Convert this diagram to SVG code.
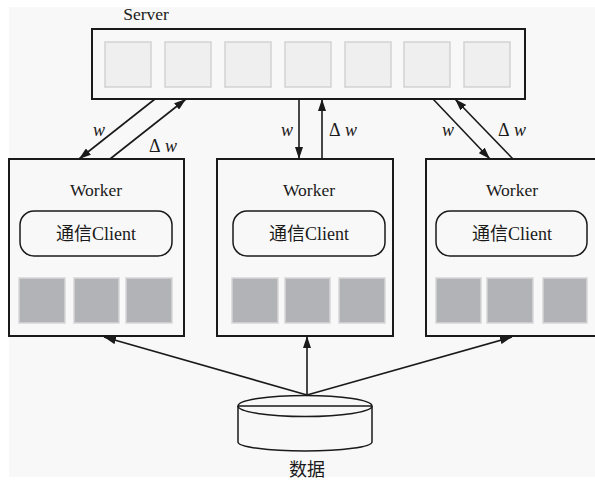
<svg xmlns="http://www.w3.org/2000/svg" width="595" height="480" viewBox="0 0 595 480">
  <defs>
    <marker id="arrow" viewBox="0 0 12 8" refX="12" refY="4" markerWidth="12" markerHeight="8" markerUnits="userSpaceOnUse" orient="auto">
      <path d="M0,0 L12,4 L0,8 Z" fill="#1a1a1a"/>
    </marker>
    <style>
      .frame { fill: #f8f8f8; stroke: #1a1a1a; stroke-width: 2; }
      .slot { fill: #efefef; stroke: #d2d2d2; stroke-width: 1.5; }
      .block { fill: #b2b3b6; stroke: #d6d6d8; stroke-width: 1.5; }
      .client { fill: #f8f8f8; stroke: #1a1a1a; stroke-width: 1.5; }
      .conn { fill: none; stroke: #1a1a1a; stroke-width: 1.6; marker-end: url(#arrow); }
      .lbl { font-family: "Liberation Serif", "Times New Roman", "Noto Sans CJK SC", serif; font-size: 17.5px; fill: #1a1a1a; text-anchor: middle; }
      .var { font-family: "Liberation Serif", "Times New Roman", serif; font-size: 18px; font-style: italic; fill: #1a1a1a; }
      .cjk { font-family: "Liberation Serif", "Times New Roman", "Noto Sans CJK SC", serif; font-size: 18px; fill: #1a1a1a; text-anchor: middle; }
    </style>
  </defs>

  <rect x="0" y="0" width="595" height="480" fill="#ffffff"/>
  <rect x="9" y="7" width="586" height="470" fill="#f8f8f8"/>

  <!-- parameter server -->
  <g id="server">
    <text class="lbl" x="146" y="20">Server</text>
    <rect class="frame" x="92" y="29" width="433" height="70"/>
    <rect class="slot" x="105" y="42" width="46" height="45"/>
    <rect class="slot" x="165" y="42" width="46" height="45"/>
    <rect class="slot" x="225" y="42" width="46" height="45"/>
    <rect class="slot" x="285" y="42" width="46" height="45"/>
    <rect class="slot" x="345" y="42" width="46" height="45"/>
    <rect class="slot" x="404" y="42" width="46" height="45"/>
    <rect class="slot" x="464" y="42" width="46" height="45"/>
  </g>

  <!-- workers -->
  <g id="worker1">
    <rect class="frame" x="9" y="159" width="175" height="177"/>
    <text class="lbl" x="96" y="196">Worker</text>
    <rect class="client" x="20" y="211" width="152" height="45" rx="14"/>
    <text class="cjk" x="96" y="240">通信Client</text>
    <rect class="block" x="19" y="278" width="46" height="45"/>
    <rect class="block" x="74" y="278" width="45" height="45"/>
    <rect class="block" x="126" y="278" width="46" height="45"/>
  </g>

  <g id="worker2">
    <rect class="frame" x="217" y="159" width="176" height="177"/>
    <text class="lbl" x="309" y="196">Worker</text>
    <rect class="client" x="233" y="211" width="152" height="45" rx="14"/>
    <text class="cjk" x="309" y="240">通信Client</text>
    <rect class="block" x="232" y="278" width="46" height="45"/>
    <rect class="block" x="285" y="278" width="45" height="45"/>
    <rect class="block" x="339" y="278" width="46" height="45"/>
  </g>

  <g id="worker3">
    <rect class="frame" x="426" y="159" width="175" height="177"/>
    <text class="lbl" x="512" y="196">Worker</text>
    <rect class="client" x="436" y="211" width="151" height="45" rx="14"/>
    <text class="cjk" x="512" y="240">通信Client</text>
    <rect class="block" x="436" y="278" width="45" height="45"/>
    <rect class="block" x="487" y="278" width="46" height="45"/>
    <rect class="block" x="543" y="278" width="44" height="45"/>
  </g>

  <!-- data store -->
  <g id="data">
    <path d="M238,406 L238,442 A67,9 0 0,0 372,442 L372,406" fill="#f8f8f8" stroke="#1a1a1a" stroke-width="1.5"/>
    <ellipse cx="305" cy="406" rx="67" ry="10.5" fill="#f8f8f8" stroke="#1a1a1a" stroke-width="1.5"/>
    <line x1="238" y1="406" x2="372" y2="406" stroke="#1a1a1a" stroke-width="1.5"/>
    <text class="cjk" x="307" y="476">数据</text>
  </g>

  <!-- connectors -->
  <g id="connectors">
    <line class="conn" x1="155" y1="99" x2="79" y2="159"/>
    <line class="conn" x1="110" y1="159" x2="186" y2="99"/>
    <line class="conn" x1="299" y1="99" x2="299" y2="159"/>
    <line class="conn" x1="322" y1="159" x2="322" y2="99"/>
    <line class="conn" x1="433" y1="99" x2="490" y2="159"/>
    <line class="conn" x1="513" y1="159" x2="455" y2="99"/>
    <line class="conn" x1="307" y1="395" x2="104" y2="337"/>
    <line class="conn" x1="307" y1="395" x2="307" y2="336"/>
    <line class="conn" x1="307" y1="395" x2="512" y2="337"/>

    <text class="var" x="93" y="136">w</text>
    <text class="var" x="149" y="152"><tspan font-style="normal">Δ</tspan> w</text>
    <text class="var" x="281" y="136">w</text>
    <text class="var" x="329" y="136"><tspan font-style="normal">Δ</tspan> w</text>
    <text class="var" x="442" y="136">w</text>
    <text class="var" x="498" y="136"><tspan font-style="normal">Δ</tspan> w</text>
  </g>
</svg>
